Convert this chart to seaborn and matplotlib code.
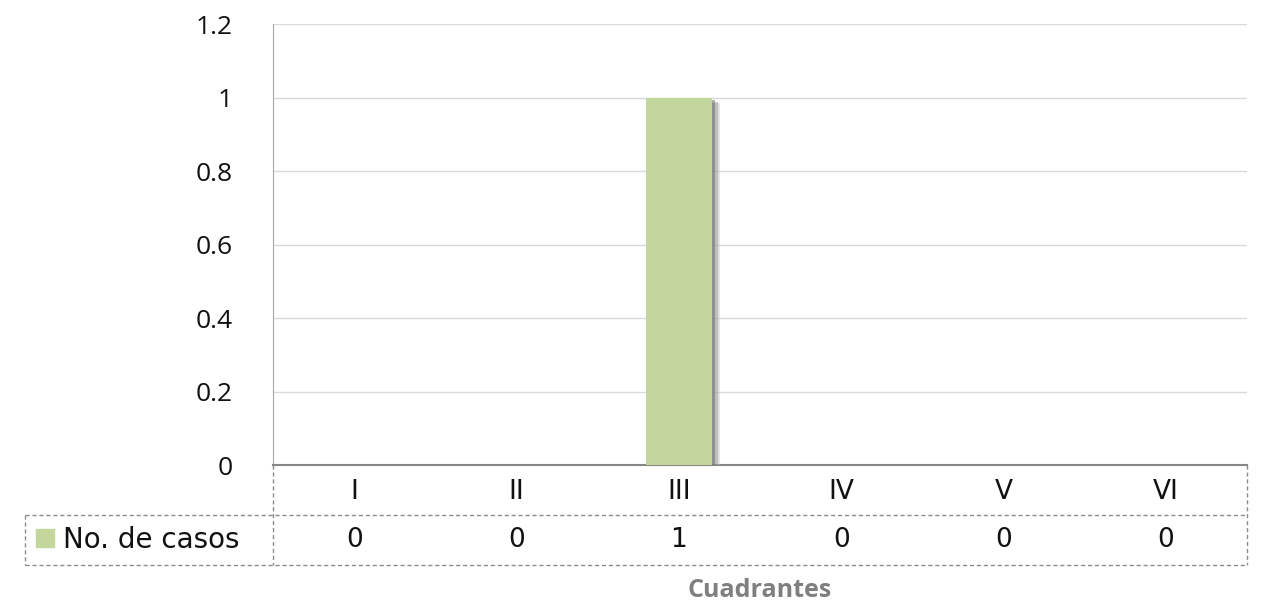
import matplotlib
matplotlib.use("Agg")
import matplotlib.pyplot as plt
import matplotlib.patheffects as pe
from matplotlib.patches import Rectangle
import seaborn as sns
import pandas as pd

# data
cuadrantes = ["I", "II", "III", "IV", "V", "VI"]
casos = [0, 0, 1, 0, 0, 0]
serie = "No. de casos"
y_ticks = [0, 0.2, 0.4, 0.6, 0.8, 1, 1.2]

df = pd.DataFrame({"cuadrante": cuadrantes, "casos": casos})

sns.set_style("white")
plt.rcParams['font.family'] = ['Open Sans', 'DejaVu Sans']

fig = plt.figure(figsize=(12.61, 6.05), dpi=100)
ax = fig.add_axes([0.2165, 0.2314, 0.7724, 0.7289])

sns.barplot(data=df, x="cuadrante", y="casos", color="#c3d69b", width=0.41,
            saturation=1, ax=ax, zorder=3, edgecolor="none", linewidth=0)
# soft drop shadow on the non-empty bars
for bar in ax.patches:
    if bar.get_height() > 0:
        bar.set_path_effects([
            pe.SimplePatchShadow(offset=(6, -4), shadow_rgbFace="#bbbbbb", alpha=0.4),
            pe.SimplePatchShadow(offset=(4, -3), shadow_rgbFace="#888888", alpha=0.4),
            pe.SimplePatchShadow(offset=(2, -2), shadow_rgbFace="#666666", alpha=0.5),
            pe.Normal()])

ax.set_xlim(-0.5, len(cuadrantes) - 0.5)
ax.set_ylim(0, 1.2)
ax.set_yticks(y_ticks)
ax.set_yticklabels([f"{t:g}" for t in y_ticks], fontsize=19, color="#111111")
ax.tick_params(axis='y', length=0, pad=29)
ax.set_xticks([])
ax.set_xlabel("")
ax.set_ylabel("")
ax.grid(axis='y', color="#d9d9d9", lw=1, zorder=0)
for s in ["top", "right"]:
    ax.spines[s].set_visible(False)
ax.spines["left"].set_color("#a6a6a6")
ax.spines["bottom"].set_color("#868686")
ax.spines["bottom"].set_linewidth(1.5)

# data table under the chart
tr = ax.get_xaxis_transform()
dash = dict(color="#8c8c8c", lw=1, ls=(0, (3, 2)), clip_on=False)
x0 = -0.2546
ax.plot([-0.5, -0.5], [0, -0.2268], transform=tr, **dash)
ax.plot([5.5, 5.5], [0, -0.2268], transform=tr, **dash)
ax.plot([x0, 1], [-0.1134, -0.1134], transform=ax.transAxes, **dash)
ax.plot([x0, 1], [-0.2268, -0.2268], transform=ax.transAxes, **dash)
ax.plot([x0, x0], [-0.1134, -0.2268], transform=ax.transAxes, **dash)

tfont = ['DejaVu Sans']
for i, (c, v) in enumerate(zip(cuadrantes, casos)):
    ax.text(i, -0.061, c, transform=tr, ha='center', va='center', fontsize=19,
            family=tfont, color="#111111")
    ax.text(i, -0.170, str(v), transform=tr, ha='center', va='center', fontsize=19,
            family=tfont, color="#111111")

ax.add_patch(Rectangle((-0.2433, -0.186), 0.0185, 0.0408, transform=ax.transAxes,
                       color="#c3d69b", clip_on=False))
ax.text(-0.2156, -0.170, serie, transform=ax.transAxes, ha='left', va='center',
        fontsize=20, family=tfont, color="#111111")

ax.text(0.5, -0.285, "Cuadrantes", transform=ax.transAxes, ha='center', va='center',
        fontsize=18, fontweight='bold', color="#7f7f7f")

fig.savefig("out.png", dpi=100)
